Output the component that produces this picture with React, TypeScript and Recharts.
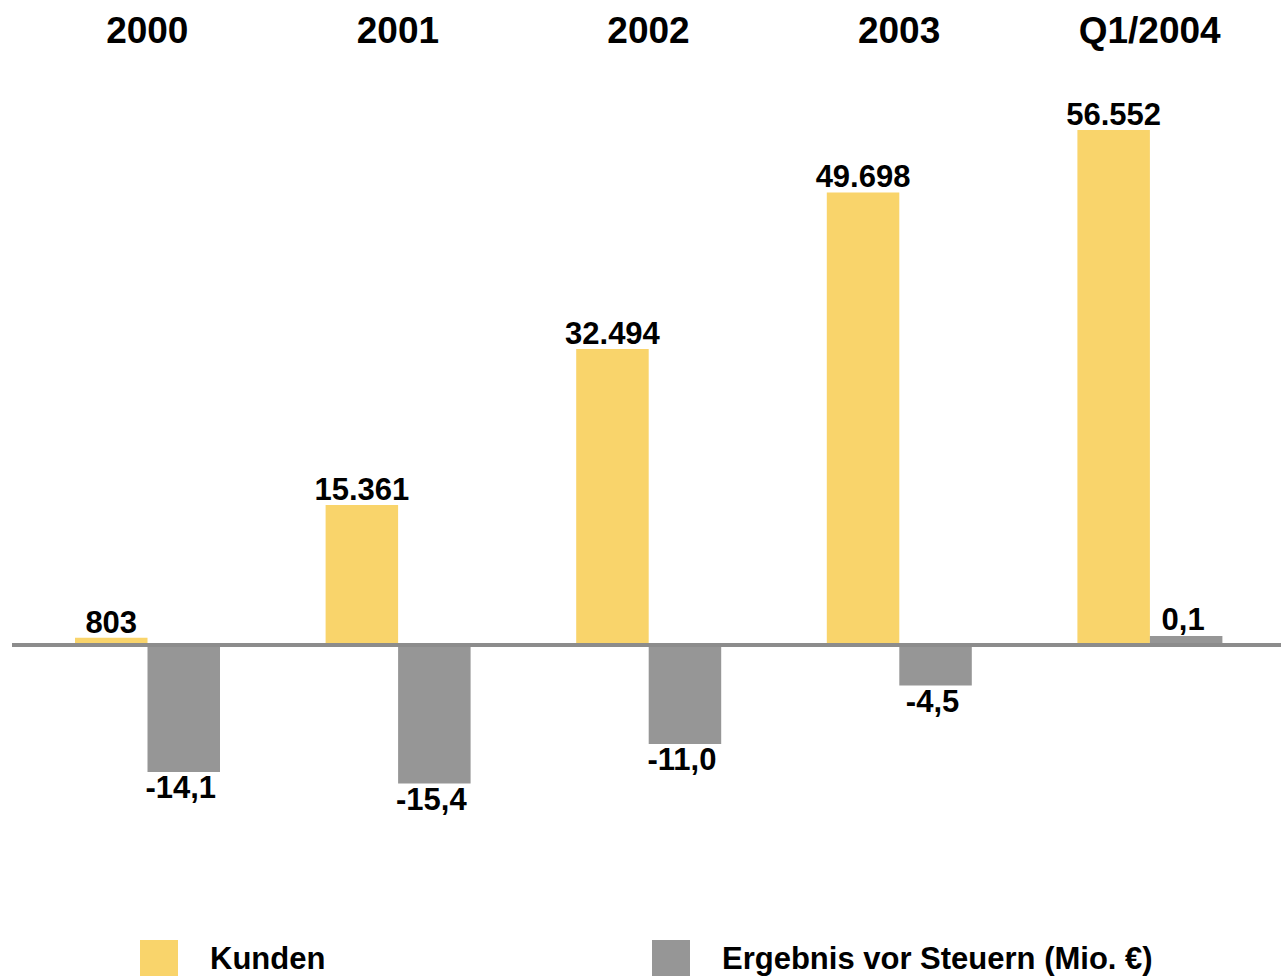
import React from 'react';
import { BarChart, Bar, XAxis, YAxis, ReferenceLine, LabelList, Legend } from 'recharts';

const categories = ['2000', '2001', '2002', '2003', 'Q1/2004'];
const kunden = [803, 15361, 32494, 49698, 56552];
const ergebnis = [-14.1, -15.4, -11.0, -4.5, 0.1];
const seriesNames = ['Kunden', 'Ergebnis vor Steuern (Mio. €)'];

const data = categories.map((cat, i) => ({ cat, kunden: kunden[i], ergebnis: ergebnis[i] }));

const FONT = '"Liberation Sans", Arial, Helvetica, sans-serif';
const YELLOW = '#F9D46B';
const GRAY = '#969696';

const fmtK = (v: number) => String(Math.round(v)).replace(/\B(?=(\d{3})+(?!\d))/g, '.');
const fmtE = (v: number) => v.toFixed(1).replace('.', ',');

const getBox = (props: any) => {
  const vb = props.viewBox && props.viewBox.width !== undefined ? props.viewBox : props;
  return { x: Number(vb.x), y: Number(vb.y), width: Number(vb.width), height: Number(vb.height) };
};

const KLabel = (props: any) => {
  const { x, y, width, height } = getBox(props);
  const top = Math.min(y, y + height);
  return (
    <text x={x + width / 2} y={top - 5} textAnchor="middle" fontSize={31} fontWeight="bold" fontFamily={FONT} fill="#000">
      {fmtK(Number(props.value))}
    </text>
  );
};

const ELabel = (props: any) => {
  const { x, y, width, height } = getBox(props);
  const top = Math.min(y, y + height);
  const bottom = Math.max(y, y + height);
  const v = Number(props.value);
  return (
    <text
      x={x + width / 2 - 3}
      y={v < 0 ? bottom + 26 : top - 6}
      textAnchor="middle"
      fontSize={31}
      fontWeight="bold"
      fontFamily={FONT}
      fill="#000"
    >
      {fmtE(v)}
    </text>
  );
};

const TopTick = (props: any) => {
  const { x, payload } = props;
  return (
    <text x={x} y={43} textAnchor="middle" fontSize={37} fontWeight="bold" fontFamily={FONT} fill="#000">
      {payload.value}
    </text>
  );
};

const LegendContent = () => {
  const items = [
    { name: seriesNames[0], color: YELLOW, left: 140 },
    { name: seriesNames[1], color: GRAY, left: 652 },
  ];
  return (
    <div style={{ position: 'relative', width: 1281, height: 40 }}>
      {items.map((it) => (
        <div
          key={it.name}
          style={{ position: 'absolute', left: it.left, top: 0, display: 'flex', alignItems: 'center', height: 38 }}
        >
          <div style={{ width: 38, height: 38, background: it.color }} />
          <span
            style={{
              marginLeft: 32,
              fontFamily: FONT,
              fontWeight: 'bold',
              fontSize: 31,
              lineHeight: '30px',
              color: '#000',
              whiteSpace: 'nowrap',
            }}
          >
            {it.name}
          </span>
        </div>
      ))}
    </div>
  );
};

export default function App() {
  return (
    <div style={{ position: 'absolute', left: 0, top: 0, width: 1281, height: 976, background: '#fff', overflow: 'hidden' }}>
      <BarChart
        width={1281}
        height={976}
        data={data}
        margin={{ top: 0, right: 0, left: 12, bottom: 76 }}
        barGap={0}
        barSize={72.5}
      >
        <XAxis
          dataKey="cat"
          orientation="top"
          height={60}
          axisLine={false}
          tickLine={false}
          padding={{ left: 10, right: 6 }}
          tick={<TopTick />}
          interval={0}
        />
        <YAxis yAxisId="k" hide domain={[-28001, 64238]} allowDataOverflow type="number" />
        <YAxis yAxisId="e" orientation="right" hide domain={[-28.333, 65]} allowDataOverflow type="number" />
        <Bar yAxisId="k" dataKey="kunden" name={seriesNames[0]} fill={YELLOW} isAnimationActive={false}>
          <LabelList dataKey="kunden" content={<KLabel />} />
        </Bar>
        <Bar yAxisId="e" dataKey="ergebnis" name={seriesNames[1]} fill={GRAY} minPointSize={9} isAnimationActive={false}>
          <LabelList dataKey="ergebnis" content={<ELabel />} />
        </Bar>
        <ReferenceLine yAxisId="k" y={0} stroke="#8C8C8C" strokeWidth={4} />
        <Legend
          verticalAlign="middle"
          layout="horizontal"
          align="center"
          content={<LegendContent />}
          wrapperStyle={{ top: 940, left: 0, width: 1281 }}
        />
      </BarChart>
    </div>
  );
}
